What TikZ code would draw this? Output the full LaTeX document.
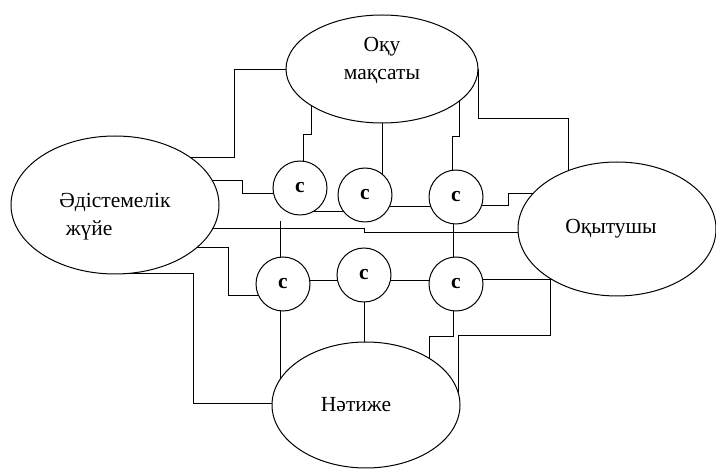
\documentclass[tikz,border=0pt]{standalone}
\usepackage{fontspec}
\setmainfont{Liberation Serif}
\usetikzlibrary{shapes.geometric, backgrounds}

\tikzset{
  oval/.style={draw, ellipse, fill=white, inner sep=0pt, font=\fontsize{21.5}{27}\selectfont},
  cnode/.style={draw, circle, fill=white, minimum size=54pt, inner sep=0pt, font=\fontsize{21.5}{24}\selectfont\bfseries},
}

\begin{document}
\begin{tikzpicture}[x=1pt, y=-1pt, line width=1pt]
        \useasboundingbox (0,0) rectangle (716,470);

        \node[oval, align=center, minimum width=192pt, minimum height=108pt] (oval 0) at (382,69) {\raisebox{4pt}[0pt][0pt]{\begin{tabular}{@{}c@{}}Оқу\\[1pt]мақсаты\end{tabular}}};
        \node[oval, minimum width=208pt, minimum height=138pt] (oval 1) at (115,205) {\raisebox{-16pt}[0pt][0pt]{\begin{tabular}{@{}l@{}}Әдістемелік\\[1pt]\hspace{0.3em}жүйе\end{tabular}}};
        \node[oval, minimum width=198pt, minimum height=134pt] (oval 2) at (617,229) {\hspace*{-12pt}Оқытушы};
        \node[oval, minimum width=188pt, minimum height=126pt] (oval 3) at (366,405) {\hspace*{-20pt}Нәтиже};

        \node[cnode] (circ 1) at (300,188) {с};
        \node[cnode] (circ 2) at (365,195) {с};
        \node[cnode] (circ 3) at (456,197) {с};
        \node[cnode] (circ 4) at (283,284) {с};
        \node[cnode] (circ 5) at (364,275) {с};
        \node[cnode] (circ 6) at (456,284) {с};

        % bend points
        \coordinate (k 1) at (234,157);
        \coordinate (k 2) at (242,180);
        \coordinate (k 3) at (242,193);
        \coordinate (k 4) at (364,228);
        \coordinate (k 5) at (364,232);
        \coordinate (k 6) at (228,247);
        \coordinate (k 7) at (228,295);
        \coordinate (k 8) at (193,273);
        \coordinate (k 9) at (193,403);
        \coordinate (k 10) at (311,134);
        \coordinate (k 11) at (303,134);
        \coordinate (k 12) at (459,136);
        \coordinate (k 13) at (452,136);
        \coordinate (k 14) at (568,118);
        \coordinate (k 15) at (315,211);
        \coordinate (k 16) at (400,206);
        \coordinate (k 17) at (508,205);
        \coordinate (k 18) at (508,193);
        \coordinate (k 19) at (280,221);
        \coordinate (k 20) at (453,240);
        \coordinate (k 21) at (400,280);
        \coordinate (k 22) at (550,279);
        \coordinate (k 23) at (550,335);
        \coordinate (k 24) at (458,335);
        \coordinate (k 25) at (453,336);
        \coordinate (k 26) at (429,336);

        \begin{pgfonlayer}{background}
        % from the top oval
        \draw (oval 0.west) -| (k 1) -- (k 1 -| oval 1);
        \draw (k 10 |- oval 0) -- (k 10) -- (k 11) -- (k 11 |- circ 1);
        \draw (oval 0) -- (oval 0 |- circ 2);
        \draw (k 12 |- oval 0) -- (k 12) -- (k 13) -- (k 13 |- circ 3);
        \draw (oval 0.east) |- (k 14) -- (k 14 |- oval 2);

        % from the left oval
        \draw (k 2 -| oval 1) -- (k 2) -- (k 3) -- (k 3 -| circ 1);
        \draw (k 4 -| oval 1) -- (k 4) -- (k 5) -- (k 5 -| oval 2);
        \draw (k 6 -| oval 1) -- (k 6) -- (k 7) -- (k 7 -| circ 4);
        \draw (k 8 -| oval 1) -- (k 8) -- (k 9) -- (k 9 -| oval 3);

        % between the circles
        \draw (circ 1 |- k 15) -- (circ 2 |- k 15);
        \draw (circ 2 |- k 16) -- (circ 3 |- k 16);
        \draw (circ 3 |- k 17) -- (k 17) -- (k 18) -- (k 18 -| oval 2);
        \draw (k 19) -- (k 19 |- circ 4);
        \draw (k 20 |- circ 3) -- (k 20 |- circ 6);
        \draw (circ 4 |- k 21) -- (circ 5 |- k 21);
        \draw (circ 5 |- k 21) -- (circ 6 |- k 21);

        % to the right and bottom ovals
        \draw (circ 6 |- k 22) -- (k 22);
        \draw (oval 2 |- k 22) -- (k 22) -- (k 23) -- (k 24) -- (k 24 |- oval 3);
        \draw (k 25 |- circ 6) -- (k 25) -- (k 26) -- (k 26 |- oval 3);
        \draw (circ 5) -- (circ 5 |- oval 3);
        \draw (k 19 |- circ 4) -- (k 19 |- oval 3);
        \end{pgfonlayer}
\end{tikzpicture}
\end{document}
